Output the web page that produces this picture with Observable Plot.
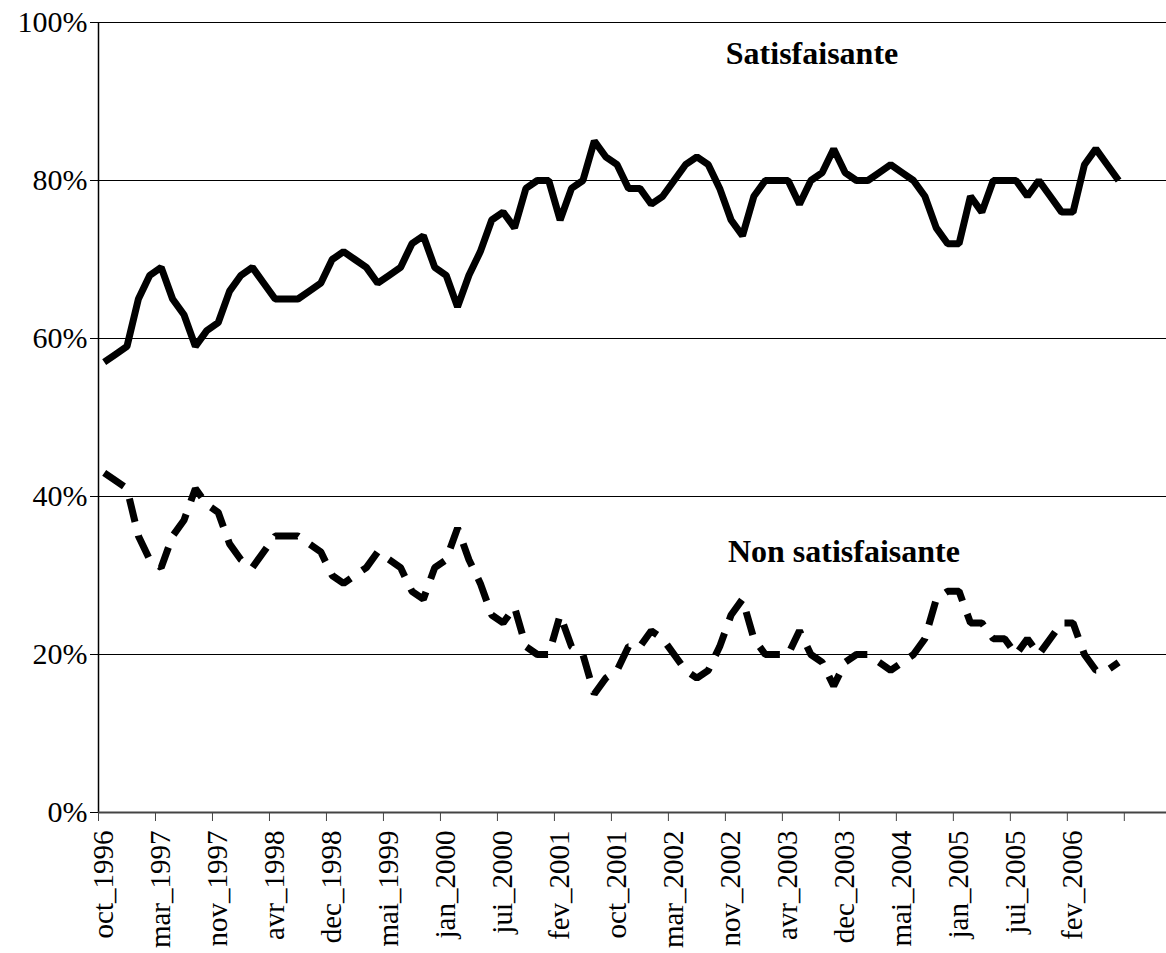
<!DOCTYPE html>
<html>
<head>
<meta charset="utf-8">
<script src="https://cdn.jsdelivr.net/npm/d3@7"></script>
<script src="https://cdn.jsdelivr.net/npm/@observablehq/plot@0.6"></script>
<style>
  html, body { margin: 0; padding: 0; background: #fff; }
</style>
</head>
<body>
<div id="chart"></div>
<script>
// Survey waves (one category each); only every 5th category is labelled.
const satisfaisante = [
  57, 58, 59, 65, 68, 69, 65, 63, 59, 61,
  62, 66, 68, 69, 67, 65, 65, 65, 66, 67,
  70, 71, 70, 69, 67, 68, 69, 72, 73, 69,
  68, 64, 68, 71, 75, 76, 74, 79, 80, 80,
  75, 79, 80, 85, 83, 82, 79, 79, 77, 78,
  80, 82, 83, 82, 79, 75, 73, 78, 80, 80,
  80, 77, 80, 81, 84, 81, 80, 80, 81, 82,
  81, 80, 78, 74, 72, 72, 78, 76, 80, 80,
  80, 78, 80, 78, 76, 76, 82, 84, 82, 80
];
const nonSatisfaisante = [
  43, 42, 41, 35, 32, 31, 35, 37, 41, 39,
  38, 34, 32, 31, 33, 35, 35, 35, 34, 33,
  30, 29, 30, 31, 33, 32, 31, 28, 27, 31,
  32, 36, 32, 29, 25, 24, 26, 21, 20, 20,
  25, 21, 20, 15, 17, 18, 21, 21, 23, 22,
  20, 18, 17, 18, 21, 25, 27, 22, 20, 20,
  20, 23, 20, 19, 16, 19, 20, 20, 19, 18,
  19, 20, 22, 27, 28, 28, 24, 24, 22, 22,
  20, 22, 20, 22, 24, 24, 20, 18, 18, 19
];
const tickLabels = [
  "oct_1996", "mar_1997", "nov_1997", "avr_1998", "dec_1998", "mai_1999",
  "jan_2000", "jui_2000", "fev_2001", "oct_2001", "mar_2002", "nov_2002",
  "avr_2003", "dec_2003", "mai_2004", "jan_2005", "jui_2005", "fev_2006"
];
const labelEvery = 5;
const yTicks = [0, 20, 40, 60, 80, 100];
const seriesNames = ["Satisfaisante", "Non satisfaisante"];
const annotationX = [62.6, 65.4];   // category position of each series label
const annotationY = [96, 33];       // value position of each series label

// ---- build tables for the library ----
const rows = satisfaisante.map((v, i) => ({i, sat: v, non: nonSatisfaisante[i]}));
const labelRows = tickLabels.map((label, k) => ({i: k * labelEvery, label}));
const tickBoundaries = d3.range(0, satisfaisante.length + 1, labelEvery);
const annotations = seriesNames.map((label, k) => ({label, x: annotationX[k], y: annotationY[k]}));
const center = d => d.i + 0.5;

const serif = "'Liberation Serif', 'Times New Roman', Times, serif";

const chart = Plot.plot({
  width: 1166,
  height: 953,
  marginLeft: 98,
  marginRight: 0,
  marginTop: 22,
  marginBottom: 141,
  style: {fontFamily: serif, background: "#fff", color: "#000", overflow: "visible"},
  x: {domain: [0, 93.7], axis: null},
  y: {domain: [0, 100], axis: null},
  marks: [
    Plot.ruleY(yTicks.filter(d => d > 0), {stroke: "#000", strokeWidth: 1}),
    Plot.axisY({ticks: yTicks, tickFormat: d => d + "%", tickSize: 8, tickPadding: 3, fontSize: 30, stroke: "#000", label: null}),
    Plot.axisX({ticks: tickBoundaries, tickFormat: () => "", tickSize: 9, stroke: "#444", label: null}),
    Plot.ruleX([0], {stroke: "#000", strokeWidth: 1.5}),
    Plot.ruleY([0], {stroke: "#444", strokeWidth: 2}),
    Plot.text(labelRows, {
      x: center, y: () => 0, text: "label", rotate: -90,
      textAnchor: "end", lineAnchor: "middle", dy: 18, fontSize: 29, fill: "#000"
    }),
    Plot.line(rows, {
      x: center, y: "sat", stroke: "#000", strokeWidth: 7,
      strokeLinejoin: "miter", strokeLinecap: "butt"
    }),
    Plot.line(rows, {
      x: center, y: "non", stroke: "#000", strokeWidth: 7,
      strokeDasharray: "24,14", strokeLinejoin: "miter", strokeLinecap: "butt"
    }),
    Plot.text(annotations, {
      x: "x", y: "y", text: "label", fontWeight: "bold", fontSize: 32, fill: "#000"
    })
  ]
});

document.getElementById("chart").appendChild(chart);
</script>
</body>
</html>
